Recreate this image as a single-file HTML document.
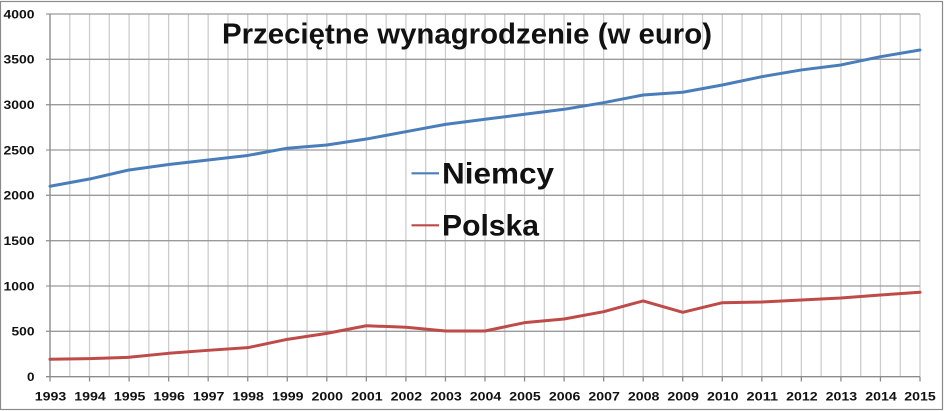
<!DOCTYPE html>
<html>
<head>
<meta charset="utf-8">
<style>
html,body{margin:0;padding:0;background:#fff;}
svg{display:block;}
text{font-family:"Liberation Sans",Arial,sans-serif;font-weight:bold;fill:#111;}
</style>
</head>
<body>
<svg width="944" height="411" viewBox="0 0 944 411" xmlns="http://www.w3.org/2000/svg">
<rect x="0" y="0" width="944" height="411" fill="#fff"/>
<rect x="0.5" y="1.5" width="942" height="408" fill="none" stroke="#8a8a8a" stroke-width="1.2"/>

<!-- vertical gridlines -->
<path d="M50 14V377M69.77 14V377M89.55 14V377M109.32 14V377M129.09 14V377M148.86 14V377M168.64 14V377M188.41 14V377M208.18 14V377M227.95 14V377M247.73 14V377M267.5 14V377M287.27 14V377M307.05 14V377M326.82 14V377M346.59 14V377M366.36 14V377M386.14 14V377M405.91 14V377M425.68 14V377M445.45 14V377M465.23 14V377M485 14V377M504.77 14V377M524.55 14V377M544.32 14V377M564.09 14V377M583.86 14V377M603.64 14V377M623.41 14V377M643.18 14V377M662.95 14V377M682.73 14V377M702.5 14V377M722.27 14V377M742.05 14V377M761.82 14V377M781.59 14V377M801.36 14V377M821.14 14V377M840.91 14V377M860.68 14V377M880.45 14V377M900.23 14V377M920 14V377" stroke="#cdcdcd" stroke-width="1.3" fill="none"/>

<!-- horizontal gridlines -->
<path d="M46 14H920M46 59.33H920M46 104.67H920M46 150H920M46 195.33H920M46 240.67H920M46 286H920M46 331.33H920" stroke="#9a9a9a" stroke-width="1.3" fill="none"/>
<!-- axes -->
<path d="M50 14V377M46 376.7H920" stroke="#8c8c8c" stroke-width="1.3" fill="none"/>
<!-- x ticks -->
<path d="M50 377V381.5M89.55 377V381.5M129.09 377V381.5M168.64 377V381.5M208.18 377V381.5M247.73 377V381.5M287.27 377V381.5M326.82 377V381.5M366.36 377V381.5M405.91 377V381.5M445.45 377V381.5M485 377V381.5M524.55 377V381.5M564.09 377V381.5M603.64 377V381.5M643.18 377V381.5M682.73 377V381.5M722.27 377V381.5M761.82 377V381.5M801.36 377V381.5M840.91 377V381.5M880.45 377V381.5M920 377V381.5" stroke="#8c8c8c" stroke-width="1.3" fill="none"/>

<!-- y labels -->
<g font-size="12" text-anchor="end">
<text x="34.5" y="18.3" textLength="31" lengthAdjust="spacingAndGlyphs">4000</text>
<text x="34.5" y="63.6" textLength="31" lengthAdjust="spacingAndGlyphs">3500</text>
<text x="34.5" y="109" textLength="31" lengthAdjust="spacingAndGlyphs">3000</text>
<text x="34.5" y="154.3" textLength="31" lengthAdjust="spacingAndGlyphs">2500</text>
<text x="34.5" y="199.6" textLength="31" lengthAdjust="spacingAndGlyphs">2000</text>
<text x="34.5" y="245" textLength="31" lengthAdjust="spacingAndGlyphs">1500</text>
<text x="34.5" y="290.3" textLength="31" lengthAdjust="spacingAndGlyphs">1000</text>
<text x="34.5" y="335.6" textLength="23" lengthAdjust="spacingAndGlyphs">500</text>
<text x="34.5" y="381" textLength="7.5" lengthAdjust="spacingAndGlyphs">0</text>
</g>

<!-- x labels -->
<g font-size="12" text-anchor="middle">
<text x="50.5" y="400.6" textLength="31.5" lengthAdjust="spacingAndGlyphs">1993</text>
<text x="90" y="400.6" textLength="31.5" lengthAdjust="spacingAndGlyphs">1994</text>
<text x="129.6" y="400.6" textLength="31.5" lengthAdjust="spacingAndGlyphs">1995</text>
<text x="169.1" y="400.6" textLength="31.5" lengthAdjust="spacingAndGlyphs">1996</text>
<text x="208.7" y="400.6" textLength="31.5" lengthAdjust="spacingAndGlyphs">1997</text>
<text x="248.2" y="400.6" textLength="31.5" lengthAdjust="spacingAndGlyphs">1998</text>
<text x="287.8" y="400.6" textLength="31.5" lengthAdjust="spacingAndGlyphs">1999</text>
<text x="327.3" y="400.6" textLength="31.5" lengthAdjust="spacingAndGlyphs">2000</text>
<text x="366.9" y="400.6" textLength="31.5" lengthAdjust="spacingAndGlyphs">2001</text>
<text x="406.4" y="400.6" textLength="31.5" lengthAdjust="spacingAndGlyphs">2002</text>
<text x="446" y="400.6" textLength="31.5" lengthAdjust="spacingAndGlyphs">2003</text>
<text x="485.5" y="400.6" textLength="31.5" lengthAdjust="spacingAndGlyphs">2004</text>
<text x="525" y="400.6" textLength="31.5" lengthAdjust="spacingAndGlyphs">2005</text>
<text x="564.6" y="400.6" textLength="31.5" lengthAdjust="spacingAndGlyphs">2006</text>
<text x="604.1" y="400.6" textLength="31.5" lengthAdjust="spacingAndGlyphs">2007</text>
<text x="643.7" y="400.6" textLength="31.5" lengthAdjust="spacingAndGlyphs">2008</text>
<text x="683.2" y="400.6" textLength="31.5" lengthAdjust="spacingAndGlyphs">2009</text>
<text x="722.8" y="400.6" textLength="31.5" lengthAdjust="spacingAndGlyphs">2010</text>
<text x="762.3" y="400.6" textLength="31.5" lengthAdjust="spacingAndGlyphs">2011</text>
<text x="801.9" y="400.6" textLength="31.5" lengthAdjust="spacingAndGlyphs">2012</text>
<text x="841.4" y="400.6" textLength="31.5" lengthAdjust="spacingAndGlyphs">2013</text>
<text x="881" y="400.6" textLength="31.5" lengthAdjust="spacingAndGlyphs">2014</text>
<text x="920" y="400.6" textLength="31.5" lengthAdjust="spacingAndGlyphs">2015</text>
</g>

<!-- series -->
<g transform="translate(0 376.7) scale(1 -0.090675)">
<polyline fill="none" stroke="#4a7ebb" stroke-width="3" stroke-linejoin="round" stroke-linecap="round" vector-effect="non-scaling-stroke"
 points="50,2100 89.55,2180 129.09,2280 168.64,2340 208.18,2390 247.73,2440 287.27,2520 326.82,2555 366.36,2621 405.91,2702 445.45,2783 485,2839 524.55,2894 564.09,2949 603.64,3022 643.18,3107 682.73,3137 722.27,3217 761.82,3309 801.36,3383 840.91,3438 880.45,3529 920,3603"/>
<polyline fill="none" stroke="#be4b48" stroke-width="3" stroke-linejoin="round" stroke-linecap="round" vector-effect="non-scaling-stroke"
 points="50,192 89.55,199 129.09,214 168.64,258 208.18,291 247.73,320 287.27,412 326.82,478 366.36,562 405.91,545 445.45,504 485,504 524.55,596 564.09,636 603.64,717 643.18,836 682.73,710 722.27,816 761.82,824 801.36,846 840.91,868 880.45,901 920,931"/>
</g>

<!-- title -->
<text x="222" y="43.3" font-size="29" textLength="490" lengthAdjust="spacingAndGlyphs">Przeciętne wynagrodzenie (w euro)</text>

<!-- legend -->
<line x1="411.5" y1="173.3" x2="439" y2="173.3" stroke="#4a7ebb" stroke-width="2.2"/>
<text x="442" y="183.3" font-size="29.5" textLength="112" lengthAdjust="spacingAndGlyphs">Niemcy</text>
<line x1="411.5" y1="225.3" x2="439" y2="225.3" stroke="#be4b48" stroke-width="2.2"/>
<text x="442" y="235.3" font-size="29.5" textLength="97" lengthAdjust="spacingAndGlyphs">Polska</text>
</svg>
</body>
</html>
